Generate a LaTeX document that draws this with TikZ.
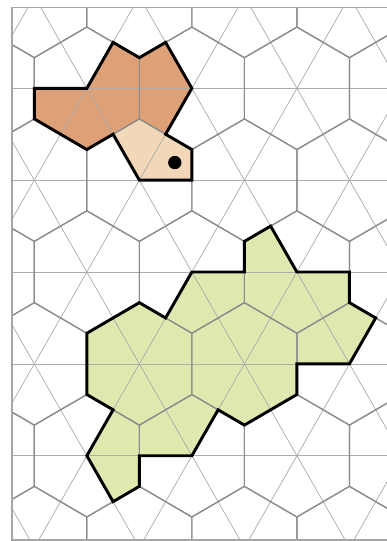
\documentclass[tikz,border=0pt]{standalone}
\usepackage{tikz}
\definecolor{mybrown}{HTML}{DEA077}
\definecolor{mypeach}{HTML}{F2D8B9}
\definecolor{mygreen}{HTML}{DFE8AE}
\tikzset{
	hexedge/.style={
			draw=gray!90,
			line width=0.9pt
		},
	kiteline/.style={
			draw=gray!65,
			line width=0.55pt
		},
	framebox/.style={
			draw=gray!70,
			line width=0.9pt
		},
	hatoutline/.style={
			draw=black,
			line width=2.2pt
		},
	hatdark/.style={fill=mybrown},
	hatlight/.style={fill=mypeach},
	hatgreen/.style={fill=mygreen},
	dotnode/.style={
			circle,
			fill=black,
			minimum size=10pt,
			inner sep=0pt
		}
}

\begin{document}
\begin{tikzpicture}[x=19.69pt, y=11.48pt]
\useasboundingbox (-3.307,-29.569) rectangle (11.398,5.768);

% tiles
\fill[hatdark] (-2,0) -- (0,0) -- (1,3) -- (2,2) -- (3,3) -- (4,0) -- (3,-3) -- (2,-2) -- (1,-3) -- (0,-4) -- (-2,-2) -- cycle;
\fill[hatlight] (1,-3) -- (2,-2) -- (3,-3) -- (4,-4) -- (4,-6) -- (2,-6) -- cycle;
\fill[hatgreen] (0,-16) -- (2,-14) -- (3,-15) -- (4,-12) -- (6,-12) -- (6,-10) -- (7,-9) -- (8,-12) -- (10,-12) -- (10,-14) -- (11,-15) -- (10,-18) -- (8,-18) -- (8,-20) -- (6,-22) -- (5,-21) -- (4,-24) -- (2,-24) -- (2,-26) -- (1,-27) -- (0,-24) -- (1,-21) -- (0,-20) -- cycle;

% kite grid
\begin{scope}
\clip (-2.85,-29.504) rectangle (11.5,5.278);
\foreach \j in {-1,...,5}
	\draw[kiteline] (-4,-6*\j) -- (13,-6*\j);
\foreach \c in {-8,-4,...,24}
	\draw[kiteline] (\c+8/3,8) -- (\c-32/3,-32);
\foreach \c in {-16,-12,...,16}
	\draw[kiteline] (\c-8/3,8) -- (\c+32/3,-32);
\foreach \j in {-1,...,5} {
	\foreach \k in {-1,...,3} {
		\pgfmathsetmacro\cx{4*\k+2*mod(\j+2,2)}
		\pgfmathsetmacro\cy{-6*\j}
		\draw[hexedge] (\cx,\cy) ++(0,4) -- ++(2,-2) -- ++(0,-4) -- ++(-2,-2) -- ++(-2,2) -- ++(0,4) -- cycle;
	}
}
\end{scope}
\draw[framebox] (11.5,5.278) -- (-2.85,5.278) -- (-2.85,-29.504) -- (11.5,-29.504);

% outlines
\draw[hatoutline] (-2,0) -- (0,0) -- (1,3) -- (2,2) -- (3,3) -- (4,0) -- (3,-3) -- (4,-4) -- (4,-6) -- (2,-6) -- (1,-3) -- (0,-4) -- (-2,-2) -- cycle;
\draw[hatoutline] (0,-16) -- (2,-14) -- (3,-15) -- (4,-12) -- (6,-12) -- (6,-10) -- (7,-9) -- (8,-12) -- (10,-12) -- (10,-14) -- (11,-15) -- (10,-18) -- (8,-18) -- (8,-20) -- (6,-22) -- (5,-21) -- (4,-24) -- (2,-24) -- (2,-26) -- (1,-27) -- (0,-24) -- (1,-21) -- (0,-20) -- cycle;

\node[dotnode] (dot) at (3.35,-4.85) {};

\end{tikzpicture}
\end{document}
